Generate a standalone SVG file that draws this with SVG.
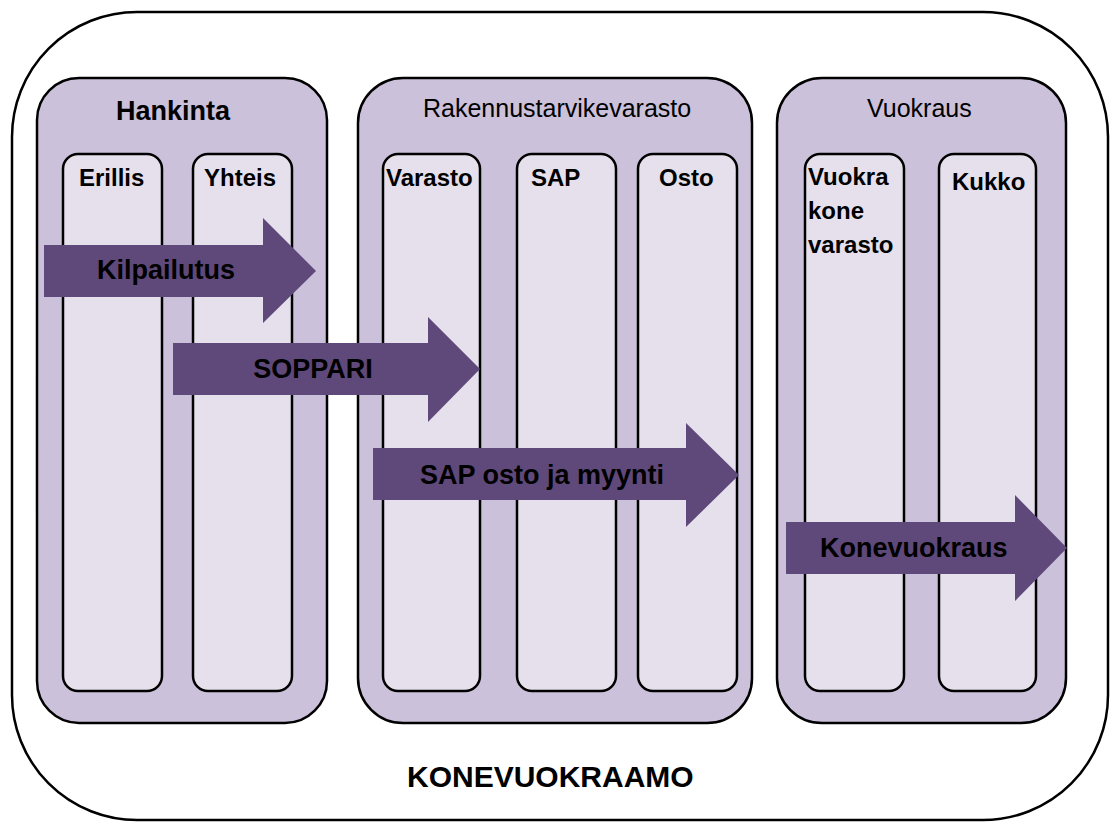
<svg xmlns="http://www.w3.org/2000/svg" width="1111" height="823" viewBox="0 0 1111 823">
<style>
text{font-family:"Liberation Sans",Arial,sans-serif;fill:#000}
.outer{fill:#fff;stroke:#000;stroke-width:2.5}
.panel{fill:#CCC1DA;stroke:#000;stroke-width:2.5}
.col{fill:#E5E0EC;stroke:#000;stroke-width:2.5}
.arrow{fill:#5F497A}
.ptitle{font-size:25px}
.btitle{font-size:27px;font-weight:bold}
.clabel{font-size:24px;font-weight:bold}
.alabel{font-size:27px;font-weight:bold}
.main{font-size:30px;font-weight:bold}
</style>
<rect width="1111" height="823" fill="#fff"/>
<g id="konevuokraamo">
<rect class="outer" x="12" y="12" width="1096" height="808" rx="125" ry="125"/>
<text class="main" x="407" y="787">KONEVUOKRAAMO</text>
</g>
<g id="hankinta">
<rect class="panel" x="37" y="78" width="290" height="645" rx="42" ry="42"/>
<text class="btitle" x="116" y="120">Hankinta</text>
</g>
<g id="erillis">
<rect class="col" x="63" y="154" width="99" height="537" rx="15" ry="15"/>
<text class="clabel" x="79" y="186">Erillis</text>
</g>
<g id="yhteis">
<rect class="col" x="193" y="154" width="99" height="537" rx="15" ry="15"/>
<text class="clabel" x="204" y="186">Yhteis</text>
</g>
<g id="rakennustarvikevarasto">
<rect class="panel" x="358" y="78" width="394" height="645" rx="45" ry="45"/>
<text class="ptitle" x="423" y="117">Rakennustarvikevarasto</text>
</g>
<g id="varasto">
<rect class="col" x="383" y="154" width="97" height="537" rx="15" ry="15"/>
<text class="clabel" x="386" y="186">Varasto</text>
</g>
<g id="sap">
<rect class="col" x="517" y="154" width="99" height="537" rx="15" ry="15"/>
<text class="clabel" x="531" y="186">SAP</text>
</g>
<g id="osto">
<rect class="col" x="638" y="154" width="99" height="537" rx="15" ry="15"/>
<text class="clabel" x="659" y="186">Osto</text>
</g>
<g id="vuokraus">
<rect class="panel" x="777" y="78" width="289" height="645" rx="45" ry="45"/>
<text class="ptitle" x="867" y="117">Vuokraus</text>
</g>
<g id="vuokrakonevarasto">
<rect class="col" x="805" y="154" width="99" height="537" rx="15" ry="15"/>
<text class="clabel" x="808" y="185">Vuokra</text>
<text class="clabel" x="808" y="219">kone</text>
<text class="clabel" x="808" y="253">varasto</text>
</g>
<g id="kukko">
<rect class="col" x="939" y="154" width="97" height="537" rx="15" ry="15"/>
<text class="clabel" x="952" y="190">Kukko</text>
</g>
<g id="connectors">
<g id="arrow-kilpailutus">
<polygon class="arrow" points="44,245 263,245 263,218 316,271 263,323 263,297 44,297"/>
<text class="alabel" x="97" y="279">Kilpailutus</text>
</g>
<g id="arrow-soppari">
<polygon class="arrow" points="173,343 428,343 428,317 480,369 428,422 428,395 173,395"/>
<text class="alabel" x="313" y="378" text-anchor="middle">SOPPARI</text>
</g>
<g id="arrow-sap">
<polygon class="arrow" points="373,448 686,448 686,423 739,475 686,527 686,500 373,500"/>
<text class="alabel" x="420" y="484">SAP osto ja myynti</text>
</g>
<g id="arrow-konevuokraus">
<polygon class="arrow" points="786,522 1015,522 1015,495 1067,548 1015,601 1015,574 786,574"/>
<text class="alabel" x="820" y="557">Konevuokraus</text>
</g>
</g>
</svg>
